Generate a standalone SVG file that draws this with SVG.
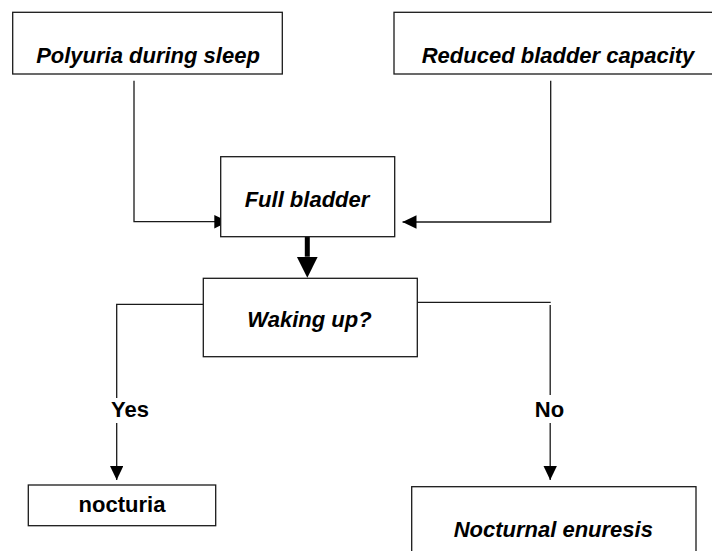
<svg xmlns="http://www.w3.org/2000/svg" width="712" height="551" viewBox="0 0 712 551">
  <style>
    .box { fill: #fff; stroke: #1a1a1a; stroke-width: 1.3; }
    .t { font-family: "Liberation Sans", Arial, sans-serif; font-size: 22px; font-weight: bold; fill: #000; text-anchor: middle; }
    .it { font-style: italic; }
    .ln { fill: none; stroke: #1a1a1a; stroke-width: 1.3; }
    .thick { fill: none; stroke: #000; stroke-width: 5; }
    .lblbg { fill: #fff; stroke: none; }
  </style>
  <defs>
    <marker id="ah" markerUnits="userSpaceOnUse" markerWidth="14" markerHeight="14" refX="14" refY="6.7" orient="auto">
      <path d="M0,0 L14,6.7 L0,13.4 Z" fill="#000"/>
    </marker>
    <marker id="ahBig" markerUnits="userSpaceOnUse" markerWidth="22" markerHeight="22" refX="0" refY="10.5" orient="auto">
      <path d="M0,0 L21,10.5 L0,21 Z" fill="#000"/>
    </marker>
  </defs>
  <rect width="712" height="551" fill="#fff"/>

  <g id="connectors">
    <path class="ln" d="M134,80.7 V221.7 H228.3" marker-end="url(#ah)"/>
    <path class="ln" d="M550.7,80.7 V222 H402.5" marker-end="url(#ah)"/>
    <path class="thick" d="M307.3,231 V256.7" marker-end="url(#ahBig)"/>
    <path class="ln" d="M203.3,304.3 H116.7 V480" marker-end="url(#ah)"/>
    <path class="ln" d="M411,302.3 H550.7"/>
    <path class="ln" d="M550.2,305 V480" marker-end="url(#ah)"/>
    <g id="label-yes">
      <rect class="lblbg" x="111" y="398" width="38" height="25"/>
      <text class="t" x="130" y="417">Yes</text>
    </g>
    <g id="label-no">
      <rect class="lblbg" x="535" y="395" width="29" height="28"/>
      <text class="t" x="549.5" y="417">No</text>
    </g>
  </g>

  <g id="node-polyuria">
    <rect class="box" x="12.7" y="12.3" width="269.6" height="61.7"/>
    <text class="t it" x="148" y="62.7">Polyuria during sleep</text>
  </g>
  <g id="node-reduced">
    <rect class="box" x="394" y="12.3" width="328" height="61.7"/>
    <text class="t it" x="558" y="62.7">Reduced bladder capacity</text>
  </g>
  <g id="node-full">
    <rect class="box" x="220.7" y="156.7" width="174" height="80"/>
    <text class="t it" x="307" y="206.7">Full bladder</text>
  </g>
  <g id="node-waking">
    <rect class="box" x="203.3" y="278.3" width="214" height="78.4"/>
    <text class="t it" x="309.5" y="326.7">Waking up?</text>
  </g>
  <g id="node-nocturia">
    <rect class="box" x="28.3" y="485" width="187.4" height="40.7"/>
    <text class="t" x="122" y="512.3">nocturia</text>
  </g>
  <g id="node-enuresis">
    <rect class="box" x="411.7" y="486.7" width="284.3" height="80"/>
    <text class="t it" x="553.3" y="536.7">Nocturnal enuresis</text>
  </g>
</svg>
